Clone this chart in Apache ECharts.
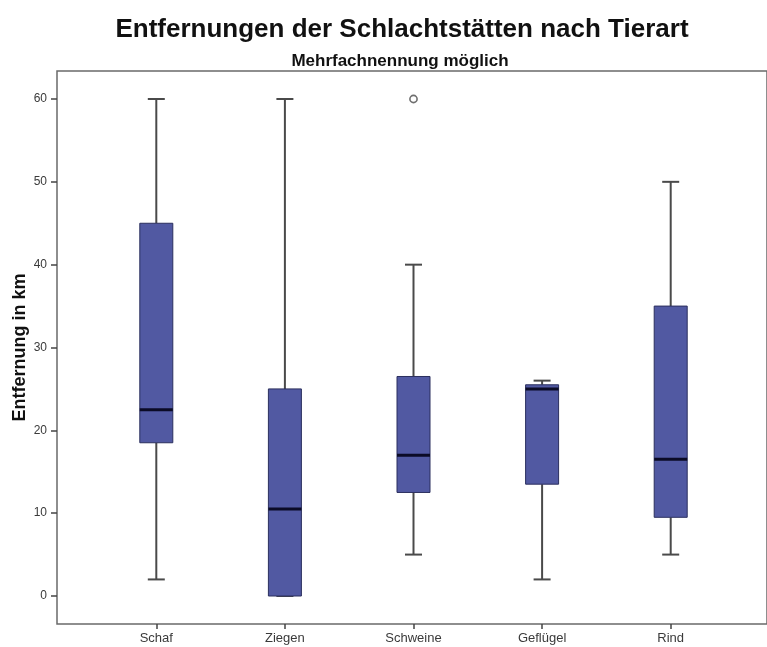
<!DOCTYPE html>
<html>
<head>
<meta charset="utf-8">
<script src="https://cdn.jsdelivr.net/npm/echarts@6/dist/echarts.min.js"></script>
<style>
  html, body { margin: 0; padding: 0; background: #fff; }
  #chart { width: 767px; height: 647px; }
</style>
</head>
<body>
<div id="chart"></div>
<script>
// Distances to slaughterhouses by animal type (km), five-number summaries
const categories = ['Schaf', 'Ziegen', 'Schweine', 'Geflügel', 'Rind'];
const minimum = [2, 0, 5, 2, 5];
const lowerQuartile = [18.5, 0, 12.5, 13.5, 9.5];
const median = [22.5, 10.5, 17, 25, 16.5];
const upperQuartile = [45, 25, 26.5, 25.5, 35];
const maximum = [60, 60, 40, 26, 50];

// Outliers beyond the whiskers
const outlierCategory = ['Schweine'];
const outlierValue = [60];

const yTicks = [0, 10, 20, 30, 40, 50, 60];

const boxData = categories.map((c, i) => [
  i, minimum[i], lowerQuartile[i], median[i], upperQuartile[i], maximum[i]
]);
const outlierData = outlierCategory.map((c, k) => [categories.indexOf(c), outlierValue[k]]);

const FONT = "'Liberation Sans', Arial, sans-serif";
const BOX_W = 33;
const CAP_W = 17;

function renderBox(params, api) {
  const i = api.value(0);
  const pMin = api.coord([i, api.value(1)]);
  const pQ1 = api.coord([i, api.value(2)]);
  const pMed = api.coord([i, api.value(3)]);
  const pQ3 = api.coord([i, api.value(4)]);
  const pMax = api.coord([i, api.value(5)]);
  const x = pMin[0];
  const hb = BOX_W / 2, hc = CAP_W / 2;
  const whisker = { stroke: '#4a4a4a', lineWidth: 2 };
  return {
    type: 'group',
    children: [
      { type: 'line', shape: { x1: x, y1: pQ3[1], x2: x, y2: pMax[1] }, style: whisker },
      { type: 'line', shape: { x1: x, y1: pQ1[1], x2: x, y2: pMin[1] }, style: whisker },
      { type: 'line', shape: { x1: x - hc, y1: pMax[1], x2: x + hc, y2: pMax[1] }, style: whisker },
      { type: 'line', shape: { x1: x - hc, y1: pMin[1], x2: x + hc, y2: pMin[1] }, style: whisker },
      {
        type: 'rect',
        shape: { x: x - hb, y: pQ3[1], width: BOX_W, height: pQ1[1] - pQ3[1] },
        style: { fill: '#5159a2', stroke: '#2b2f5e', lineWidth: 1 }
      },
      {
        type: 'line',
        shape: { x1: x - hb, y1: pMed[1], x2: x + hb, y2: pMed[1] },
        style: { stroke: '#0b0b26', lineWidth: 3 }
      }
    ]
  };
}

function renderOutlier(params, api) {
  const p = api.coord([api.value(0), api.value(1)]);
  return {
    type: 'circle',
    shape: { cx: p[0], cy: p[1], r: 3.6 },
    style: { fill: '#ffffff', stroke: '#6f6f6f', lineWidth: 1.6 }
  };
}

const hidden = { show: false };

const chart = echarts.init(document.getElementById('chart'), null, { renderer: 'canvas' });
chart.setOption({
  animation: false,
  backgroundColor: '#ffffff',
  title: [
    {
      text: 'Entfernungen der Schlachtstätten nach Tierart',
      left: 397, top: 12, textAlign: 'center',
      textStyle: { fontFamily: FONT, fontSize: 26, fontWeight: 'bold', color: '#111' }
    },
    {
      text: 'Mehrfachnennung möglich',
      left: 395, top: 48, textAlign: 'center',
      textStyle: { fontFamily: FONT, fontSize: 17, fontWeight: 'bold', color: '#111' }
    }
  ],
  grid: [
    // plotting area for the boxes (value range 0..60)
    { left: 92, right: 32, top: 99, bottom: 51 },
    // outer frame
    { left: 57, right: -20, top: 71, bottom: 23, show: true, borderColor: '#6a6a6a', borderWidth: 1.5, backgroundColor: 'transparent' },
    // category axis along the bottom frame edge
    { left: 92, right: 32, top: 71, bottom: 23 },
    // value axis along the left frame edge
    { left: 57, right: -20, top: 99, bottom: 51 }
  ],
  xAxis: [
    { type: 'category', gridIndex: 0, data: categories, show: false },
    { type: 'value', gridIndex: 1, show: false, min: 0, max: 1 },
    {
      type: 'category', gridIndex: 2, data: categories, position: 'bottom',
      axisLine: { show: false },
      axisTick: { show: true, alignWithLabel: true, length: 5, lineStyle: { color: '#444', width: 1.5 } },
      axisLabel: { fontFamily: FONT, fontSize: 13, color: '#3a3a3a', margin: 8 },
      splitLine: hidden
    },
    { type: 'value', gridIndex: 3, show: false, min: 0, max: 1 }
  ],
  yAxis: [
    { type: 'value', gridIndex: 0, min: 0, max: 60, interval: 10, show: false },
    { type: 'value', gridIndex: 1, show: false, min: 0, max: 1 },
    { type: 'value', gridIndex: 2, show: false, min: 0, max: 1 },
    {
      type: 'value', gridIndex: 3, min: 0, max: 60, interval: 10, position: 'left',
      name: 'Entfernung in km', nameLocation: 'middle', nameGap: 28, nameMoveOverlap: false,
      nameTextStyle: { fontFamily: FONT, fontSize: 18, fontWeight: 'bold', color: '#111' },
      axisLine: { show: false },
      axisTick: { show: true, length: 6, lineStyle: { color: '#444', width: 1.5 } },
      axisLabel: {
        fontFamily: FONT, fontSize: 12, color: '#3a3a3a', margin: 10,
        formatter: v => (yTicks.indexOf(v) >= 0 ? String(v) : '')
      },
      splitLine: hidden
    }
  ],
  series: [
    {
      type: 'custom', xAxisIndex: 0, yAxisIndex: 0,
      data: boxData,
      encode: { x: 0, y: [1, 2, 3, 4, 5] },
      renderItem: renderBox
    },
    {
      type: 'custom', xAxisIndex: 0, yAxisIndex: 0,
      data: outlierData,
      encode: { x: 0, y: 1 },
      renderItem: renderOutlier
    }
  ]
});
</script>
</body>
</html>
